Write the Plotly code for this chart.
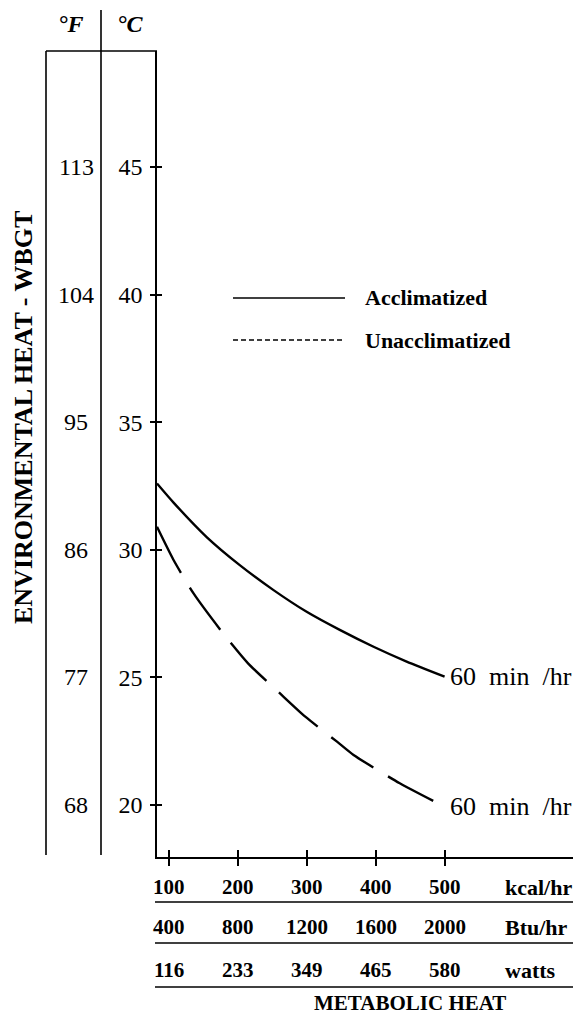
import plotly.graph_objects as go

W, H = 581, 1029

# ---- data ----
kcal_ticks = [100, 200, 300, 400, 500]
kcal_labels = ["100", "200", "300", "400", "500"]
btu_labels = ["400", "800", "1200", "1600", "2000"]
watt_labels = ["116", "233", "349", "465", "580"]
row_units = ["kcal/hr", "Btu/hr", "watts"]

c_ticks = [20, 25, 30, 35, 40, 45]
f_labels = ["68", "77", "86", "95", "104", "113"]

accl_x = [83, 107, 155, 203, 252, 300, 348, 397, 445, 500]
accl_y = [32.6, 31.85, 30.5, 29.40, 28.42, 27.57, 26.86, 26.20, 25.62, 25.03]
unacc_x = [83, 107, 136, 179, 215, 261, 298, 344, 368, 435, 500]
unacc_y = [30.9, 29.6, 28.29, 26.72, 25.55, 24.38, 23.46, 22.48, 21.96, 20.85, 19.93]

end_label = "60&nbsp; min&nbsp; /hr"

# ---- page-pixel -> paper helpers (page body has an 8px margin) ----
OFF = 8

def px(x):
    return (x - OFF) / W

def py(y):
    return 1 - (y - OFF) / H

SERIF = "Liberation Serif"

fig = go.Figure()
fig.add_trace(go.Scatter(x=accl_x, y=accl_y, mode="lines", name="Acclimatized",
                         line=dict(color="black", width=2.4, shape="spline", smoothing=0.6)))
fig.add_trace(go.Scatter(x=unacc_x, y=unacc_y, mode="lines", name="Unacclimatized",
                         line=dict(color="black", width=2.4, shape="spline", smoothing=0.6,
                                   dash="52px,17px")))
# invisible trace on overlay axes so their cross ticks are drawn
fig.add_trace(go.Scatter(x=[accl_x[0]], y=[accl_y[0]], xaxis="x2", yaxis="y2",
                         mode="markers", marker=dict(opacity=0), hoverinfo="skip",
                         showlegend=False))

x_dom = [px(157), px(577)]
y_dom = [py(857), py(51)]
x_rng = [83, 692]
y_rng = [17.96, 49.55]

fig.update_layout(
    width=W, height=H, autosize=False,
    margin=dict(l=0, r=0, t=0, b=0),
    paper_bgcolor="white", plot_bgcolor="white",
    showlegend=False,
    font=dict(family=SERIF, color="black"),
    xaxis=dict(domain=x_dom, range=x_rng, showline=True, linecolor="black", linewidth=1.6,
               ticks="outside", ticklen=7, tickwidth=1.6, tickcolor="black",
               tickvals=kcal_ticks, showticklabels=False, showgrid=False, zeroline=False,
               anchor="y", automargin=False),
    xaxis2=dict(domain=x_dom, range=x_rng, overlaying="x", anchor="y", side="bottom",
                ticks="inside", ticklen=7, tickwidth=1.6, tickcolor="black",
                tickvals=kcal_ticks, showticklabels=False, showline=False,
                showgrid=False, zeroline=False, automargin=False),
    yaxis=dict(domain=y_dom, range=y_rng, showline=True, linecolor="black", linewidth=1.6,
               ticks="outside", ticklen=5, tickwidth=1.6, tickcolor="black",
               tickvals=c_ticks, ticktext=[str(v) for v in c_ticks],
               tickfont=dict(family=SERIF, size=24, color="black"),
               ticklabelstandoff=3,
               showgrid=False, zeroline=False, anchor="x", automargin=False),
    yaxis2=dict(domain=y_dom, range=y_rng, overlaying="y", anchor="x",
                ticks="inside", ticklen=5, tickwidth=1.6, tickcolor="black",
                tickvals=c_ticks, showticklabels=False, showline=False,
                showgrid=False, zeroline=False, automargin=False),
)

shapes = []
def hline(x0, x1, y, w=1.6, dash="solid"):
    shapes.append(dict(type="line", xref="paper", yref="paper", x0=px(x0), x1=px(x1),
                       y0=py(y), y1=py(y), line=dict(color="black", width=w, dash=dash)))

def vline(x, y0, y1, w=1.6):
    shapes.append(dict(type="line", xref="paper", yref="paper", x0=px(x), x1=px(x),
                       y0=py(y0), y1=py(y1), line=dict(color="black", width=w)))

# °F column box
vline(46, 51, 855)
vline(101, 10, 855)
hline(46, 157, 51)
# table rules
for yy in (902, 943, 987):
    hline(155, 577, yy, w=1.4)
# legend samples
LEG1, LEG2 = 298, 340
hline(233, 345, LEG1, w=1.6)
hline(233, 345, LEG2, w=1.4, dash="5px,3px")
fig.update_layout(shapes=shapes)

ann = []
def text(x, y, s, size, bold=False, italic=False, xanchor="center", xref="paper", yref="paper",
         angle=0):
    t = s
    if italic:
        t = "<i>" + t + "</i>"
    if bold:
        t = "<b>" + t + "</b>"
    ann.append(dict(x=x, y=y, xref=xref, yref=yref, text=t, showarrow=False,
                    xanchor=xanchor, yanchor="middle", textangle=angle,
                    font=dict(family=SERIF, size=size, color="black")))

# headers
text(px(71), py(24), "°F", 24, bold=True, italic=True)
text(px(130), py(24), "°C", 24, bold=True, italic=True)
# °F labels tied to the °C scale
for c, f in zip(c_ticks, f_labels):
    text(px(76), c, f, 24, yref="y")
# y title
text(px(23), py(418), "ENVIRONMENTAL HEAT - WBGT", 26, bold=True, angle=-90)
# end labels
for xv, yv in [(accl_x[-1], accl_y[-1]), (unacc_x[-1], unacc_y[-1])]:
    ann.append(dict(x=xv, y=yv, xref="x", yref="y", text=end_label, showarrow=False,
                    xanchor="left", yanchor="middle", xshift=3,
                    font=dict(family=SERIF, size=26, color="black")))
# legend text
text(px(363), py(LEG1), "Acclimatized", 22, bold=True, xanchor="left")
text(px(363), py(LEG2), "Unacclimatized", 22, bold=True, xanchor="left")
# table
rows = [(kcal_labels, 887), (btu_labels, 927), (watt_labels, 970)]
for (labels, yy), unit in zip(rows, row_units):
    for xv, lab in zip(kcal_ticks, labels):
        text(xv, py(yy), lab, 21, bold=True, xref="x")
    text(px(503), py(yy), unit, 22, bold=True, xanchor="left")
# x title
text(px(410), py(1003), "METABOLIC HEAT", 21, bold=True)

fig.update_layout(annotations=ann)

fig.write_html("out.html")
